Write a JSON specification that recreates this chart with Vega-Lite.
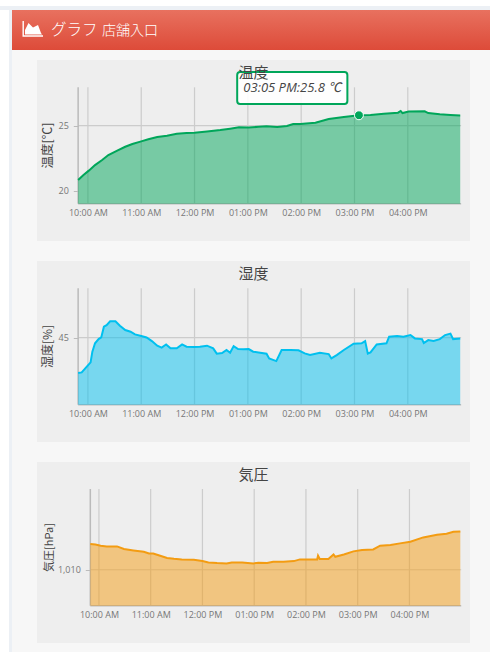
{"$schema":"https://vega.github.io/schema/vega-lite/v6.json","padding":0,"background":"#f7f7f7","bounds":"flush","spacing":0,
"config":{"view":{"stroke":null},"font":"Open Sans"},
"datasets":{
"empty":[],
"hdrIconArea":[{"px":25,"py":34.5},{"px":25,"py":30},{"px":28.5,"py":23},{"px":33,"py":27.5},{"px":38,"py":25},{"px":41,"py":33},{"px":42,"py":34.5}],
"hdrIconLine":[{"i":1,"px":23.2,"py":21},{"i":2,"px":23.2,"py":36},{"i":3,"px":43,"py":36}],
"hdrBig":[{"px":51,"py":30,"label":"グラフ"}],
"hdrSmall":[{"px":102,"py":31,"label":"店舗入口"}],
"temp":[
{"time":"2024-01-01T09:49:00Z","value":20.82},{"time":"2024-01-01T09:55:00Z","value":21.21},{"time":"2024-01-01T10:01:00Z","value":21.54},{"time":"2024-01-01T10:08:00Z","value":21.97},{"time":"2024-01-01T10:16:00Z","value":22.36},{"time":"2024-01-01T10:23:00Z","value":22.74},{"time":"2024-01-01T10:33:00Z","value":23.08},{"time":"2024-01-01T10:42:00Z","value":23.38},{"time":"2024-01-01T10:50:00Z","value":23.59},{"time":"2024-01-01T11:00:00Z","value":23.79},{"time":"2024-01-01T11:08:00Z","value":23.95},{"time":"2024-01-01T11:18:00Z","value":24.13},{"time":"2024-01-01T11:29:00Z","value":24.23},{"time":"2024-01-01T11:40:00Z","value":24.38},{"time":"2024-01-01T11:51:00Z","value":24.44},{"time":"2024-01-01T12:00:00Z","value":24.46},{"time":"2024-01-01T12:14:00Z","value":24.56},{"time":"2024-01-01T12:29:00Z","value":24.67},{"time":"2024-01-01T12:40:00Z","value":24.77},{"time":"2024-01-01T12:50:00Z","value":24.87},{"time":"2024-01-01T13:01:00Z","value":24.85},{"time":"2024-01-01T13:12:00Z","value":24.92},{"time":"2024-01-01T13:21:00Z","value":24.95},{"time":"2024-01-01T13:33:00Z","value":24.9},{"time":"2024-01-01T13:44:00Z","value":24.97},{"time":"2024-01-01T13:51:00Z","value":25.13},{"time":"2024-01-01T13:59:00Z","value":25.13},{"time":"2024-01-01T14:16:00Z","value":25.23},{"time":"2024-01-01T14:31:00Z","value":25.51},{"time":"2024-01-01T14:48:00Z","value":25.67},{"time":"2024-01-01T15:05:00Z","value":25.8},{"time":"2024-01-01T15:18:00Z","value":25.82},{"time":"2024-01-01T15:33:00Z","value":25.92},{"time":"2024-01-01T15:49:00Z","value":26.0},{"time":"2024-01-01T15:52:00Z","value":26.13},{"time":"2024-01-01T15:54:00Z","value":25.97},{"time":"2024-01-01T16:01:00Z","value":26.08},{"time":"2024-01-01T16:19:00Z","value":26.1},{"time":"2024-01-01T16:23:00Z","value":25.97},{"time":"2024-01-01T16:36:00Z","value":25.87},{"time":"2024-01-01T16:48:00Z","value":25.82},{"time":"2024-01-01T16:59:00Z","value":25.79}],
"humid":[
{"time":"2024-01-01T09:49:00Z","value":42.48},{"time":"2024-01-01T09:53:00Z","value":42.52},{"time":"2024-01-01T09:57:00Z","value":42.81},{"time":"2024-01-01T10:01:00Z","value":43.1},{"time":"2024-01-01T10:03:00Z","value":43.24},{"time":"2024-01-01T10:05:00Z","value":44.0},{"time":"2024-01-01T10:08:00Z","value":44.6},{"time":"2024-01-01T10:12:00Z","value":44.9},{"time":"2024-01-01T10:15:00Z","value":45.02},{"time":"2024-01-01T10:18:00Z","value":45.79},{"time":"2024-01-01T10:21:00Z","value":45.9},{"time":"2024-01-01T10:25:00Z","value":46.17},{"time":"2024-01-01T10:31:00Z","value":46.17},{"time":"2024-01-01T10:36:00Z","value":45.86},{"time":"2024-01-01T10:42:00Z","value":45.55},{"time":"2024-01-01T10:48:00Z","value":45.43},{"time":"2024-01-01T10:53:00Z","value":45.24},{"time":"2024-01-01T11:00:00Z","value":45.12},{"time":"2024-01-01T11:06:00Z","value":45.02},{"time":"2024-01-01T11:12:00Z","value":44.76},{"time":"2024-01-01T11:18:00Z","value":44.43},{"time":"2024-01-01T11:23:00Z","value":44.29},{"time":"2024-01-01T11:28:00Z","value":44.52},{"time":"2024-01-01T11:33:00Z","value":44.24},{"time":"2024-01-01T11:40:00Z","value":44.24},{"time":"2024-01-01T11:46:00Z","value":44.52},{"time":"2024-01-01T11:51:00Z","value":44.36},{"time":"2024-01-01T11:59:00Z","value":44.33},{"time":"2024-01-01T12:06:00Z","value":44.36},{"time":"2024-01-01T12:14:00Z","value":44.43},{"time":"2024-01-01T12:21:00Z","value":44.24},{"time":"2024-01-01T12:25:00Z","value":43.86},{"time":"2024-01-01T12:31:00Z","value":43.9},{"time":"2024-01-01T12:36:00Z","value":44.12},{"time":"2024-01-01T12:40:00Z","value":43.93},{"time":"2024-01-01T12:44:00Z","value":44.4},{"time":"2024-01-01T12:49:00Z","value":44.19},{"time":"2024-01-01T12:55:00Z","value":44.17},{"time":"2024-01-01T13:01:00Z","value":44.19},{"time":"2024-01-01T13:06:00Z","value":44.0},{"time":"2024-01-01T13:12:00Z","value":43.95},{"time":"2024-01-01T13:21:00Z","value":43.86},{"time":"2024-01-01T13:24:00Z","value":43.52},{"time":"2024-01-01T13:32:00Z","value":43.33},{"time":"2024-01-01T13:38:00Z","value":44.12},{"time":"2024-01-01T13:48:00Z","value":44.12},{"time":"2024-01-01T13:57:00Z","value":44.1},{"time":"2024-01-01T14:04:00Z","value":43.88},{"time":"2024-01-01T14:10:00Z","value":43.76},{"time":"2024-01-01T14:21:00Z","value":43.93},{"time":"2024-01-01T14:31:00Z","value":43.83},{"time":"2024-01-01T14:34:00Z","value":43.52},{"time":"2024-01-01T14:40:00Z","value":43.76},{"time":"2024-01-01T14:48:00Z","value":44.12},{"time":"2024-01-01T14:59:00Z","value":44.57},{"time":"2024-01-01T15:08:00Z","value":44.6},{"time":"2024-01-01T15:12:00Z","value":44.76},{"time":"2024-01-01T15:15:00Z","value":43.86},{"time":"2024-01-01T15:18:00Z","value":43.95},{"time":"2024-01-01T15:25:00Z","value":44.52},{"time":"2024-01-01T15:36:00Z","value":44.6},{"time":"2024-01-01T15:39:00Z","value":45.07},{"time":"2024-01-01T15:48:00Z","value":45.12},{"time":"2024-01-01T15:55:00Z","value":45.07},{"time":"2024-01-01T16:03:00Z","value":45.19},{"time":"2024-01-01T16:08:00Z","value":44.95},{"time":"2024-01-01T16:16:00Z","value":44.9},{"time":"2024-01-01T16:18:00Z","value":44.62},{"time":"2024-01-01T16:23:00Z","value":44.83},{"time":"2024-01-01T16:29:00Z","value":44.76},{"time":"2024-01-01T16:36:00Z","value":44.9},{"time":"2024-01-01T16:42:00Z","value":45.19},{"time":"2024-01-01T16:48:00Z","value":45.29},{"time":"2024-01-01T16:51:00Z","value":44.9},{"time":"2024-01-01T16:59:00Z","value":44.95}],
"press":[
{"time":"2024-01-01T09:50:00Z","value":1012.85},{"time":"2024-01-01T09:56:00Z","value":1012.81},{"time":"2024-01-01T10:02:00Z","value":1012.67},{"time":"2024-01-01T10:09:00Z","value":1012.59},{"time":"2024-01-01T10:21:00Z","value":1012.59},{"time":"2024-01-01T10:29:00Z","value":1012.3},{"time":"2024-01-01T10:40:00Z","value":1012.15},{"time":"2024-01-01T10:52:00Z","value":1012.0},{"time":"2024-01-01T10:58:00Z","value":1011.81},{"time":"2024-01-01T11:03:00Z","value":1011.81},{"time":"2024-01-01T11:11:00Z","value":1011.56},{"time":"2024-01-01T11:19:00Z","value":1011.3},{"time":"2024-01-01T11:27:00Z","value":1011.22},{"time":"2024-01-01T11:36:00Z","value":1011.15},{"time":"2024-01-01T11:50:00Z","value":1011.11},{"time":"2024-01-01T12:00:00Z","value":1010.96},{"time":"2024-01-01T12:07:00Z","value":1010.81},{"time":"2024-01-01T12:17:00Z","value":1010.74},{"time":"2024-01-01T12:28:00Z","value":1010.7},{"time":"2024-01-01T12:34:00Z","value":1010.81},{"time":"2024-01-01T12:46:00Z","value":1010.81},{"time":"2024-01-01T12:59:00Z","value":1010.7},{"time":"2024-01-01T13:05:00Z","value":1010.78},{"time":"2024-01-01T13:15:00Z","value":1010.74},{"time":"2024-01-01T13:22:00Z","value":1010.89},{"time":"2024-01-01T13:34:00Z","value":1010.89},{"time":"2024-01-01T13:46:00Z","value":1010.96},{"time":"2024-01-01T13:53:00Z","value":1011.15},{"time":"2024-01-01T14:13:00Z","value":1011.15},{"time":"2024-01-01T14:14:00Z","value":1011.56},{"time":"2024-01-01T14:16:00Z","value":1011.19},{"time":"2024-01-01T14:26:00Z","value":1011.19},{"time":"2024-01-01T14:32:00Z","value":1011.7},{"time":"2024-01-01T14:34:00Z","value":1011.44},{"time":"2024-01-01T14:44:00Z","value":1011.7},{"time":"2024-01-01T14:55:00Z","value":1012.04},{"time":"2024-01-01T15:05:00Z","value":1012.19},{"time":"2024-01-01T15:18:00Z","value":1012.26},{"time":"2024-01-01T15:26:00Z","value":1012.67},{"time":"2024-01-01T15:38:00Z","value":1012.74},{"time":"2024-01-01T15:49:00Z","value":1012.93},{"time":"2024-01-01T16:01:00Z","value":1013.11},{"time":"2024-01-01T16:16:00Z","value":1013.59},{"time":"2024-01-01T16:32:00Z","value":1013.89},{"time":"2024-01-01T16:43:00Z","value":1014.0},{"time":"2024-01-01T16:51:00Z","value":1014.22},{"time":"2024-01-01T16:59:00Z","value":1014.26}]
},
"vconcat":[
{"width":490,"height":10,"view":{"stroke":null,"fill":{"gradient":"linear","x1":0,"y1":0,"x2":0,"y2":1,"stops":[{"offset":0,"color":"#ffffff"},{"offset":0.6,"color":"#ffffff"},{"offset":0.6,"color":"#ecf0f5"},{"offset":1,"color":"#ecf0f5"}]}},"data":{"name":"empty"},"mark":"rule","encoding":{}},
{"bounds":"flush","spacing":0,"hconcat":[
{"width":12,"height":642,"view":{"stroke":null,"fill":{"gradient":"linear","x1":0,"y1":0,"x2":1,"y2":0,"stops":[{"offset":0,"color":"#ffffff"},{"offset":0.75,"color":"#ffffff"},{"offset":0.75,"color":"#ecf0f5"},{"offset":1,"color":"#ecf0f5"}]}},"data":{"name":"empty"},"mark":"rule","encoding":{}},
{"bounds":"flush","spacing":10,"vconcat":[
{"width":478,"height":40,"view":{"stroke":null,"fill":{"gradient":"linear","x1":0,"y1":0,"x2":0,"y2":1,"stops":[{"offset":0,"color":"#e8715f"},{"offset":1,"color":"#dd4b39"}]}},
"encoding":{"x":{"field":"px","type":"quantitative","scale":{"domain":[12,490],"nice":false,"zero":false},"axis":null},"y":{"field":"py","type":"quantitative","scale":{"domain":[50,10],"nice":false,"zero":false},"axis":null}},
"layer":[
{"data":{"name":"hdrIconArea"},"mark":{"type":"area","color":"#ffffff","interpolate":"linear"},"encoding":{"y2":{"datum":34.5}}},
{"data":{"name":"hdrIconLine"},"mark":{"type":"line","color":"#ffffff","strokeWidth":1.4},"encoding":{"order":{"field":"i"}}},
{"data":{"name":"hdrBig"},"mark":{"type":"text","align":"left","baseline":"middle","color":"#ffffff","font":"Noto Sans CJK JP","fontSize":15.5,"fontWeight":300},"encoding":{"text":{"field":"label"}}},
{"data":{"name":"hdrSmall"},"mark":{"type":"text","align":"left","baseline":"middle","color":"#ffffff","font":"Noto Sans CJK JP","fontSize":14,"fontWeight":300},"encoding":{"text":{"field":"label"}}}
]},
{"bounds":"flush","spacing":0,"hconcat":[
{"width":25,"height":1,"data":{"name":"empty"},"mark":"rule","encoding":{}},
{"bounds":"flush","spacing":20,"vconcat":[
{"width":433,"height":181,"view":{"stroke":null,"fill":"#eeeeee"},
"title":{"text":"温度","font":"Noto Sans CJK JP","fontSize":15,"fontWeight":"normal","color":"#444444","offset":-21,"anchor":"middle"},
"encoding":{
"x":{"field":"time","type":"temporal","scale":{"type":"utc","domain":["2024-01-01T09:02:42Z","2024-01-01T17:10:00Z"]},"axis":{"title":null,"grid":false,"domain":false,"ticks":false,"format":"%I:%M %p","values":["2024-01-01T10:00:00Z","2024-01-01T11:00:00Z","2024-01-01T12:00:00Z","2024-01-01T13:00:00Z","2024-01-01T14:00:00Z","2024-01-01T15:00:00Z","2024-01-01T16:00:00Z"],"offset":-37.3,"labelPadding":5,"labelFont":"Open Sans","labelFontSize":9,"labelColor":"#777777","labelOverlap":false}},
"y":{"field":"value","type":"quantitative","scale":{"domain":[16.13,30.05],"nice":false,"zero":false},"axis":{"title":"温度[℃]","titleFont":"Noto Sans CJK JP","titleFontSize":12.5,"titleFontWeight":"normal","titleColor":"#444444","titleX":-24,"titleY":85,"grid":false,"domain":false,"offset":-41.3,"values":[20,25],"tickSize":5,"tickColor":"#bbbbbb","labelPadding":5,"labelFont":"Open Sans","labelFontSize":9,"labelColor":"#777777"}}},
"layer":[
{"data":{"values":[{"time":"2024-01-01T10:00:00Z","value":19,"value2":27.95},{"time":"2024-01-01T11:00:00Z","value":19,"value2":27.95},{"time":"2024-01-01T12:00:00Z","value":19,"value2":27.95},{"time":"2024-01-01T13:00:00Z","value":19,"value2":27.95},{"time":"2024-01-01T14:00:00Z","value":19,"value2":27.95},{"time":"2024-01-01T15:00:00Z","value":19,"value2":27.95},{"time":"2024-01-01T16:00:00Z","value":19,"value2":27.95}]},"mark":{"type":"rule","color":"#cccccc","strokeWidth":1.2},"encoding":{"y2":{"field":"value2"}}},
{"data":{"values":[{"time":"2024-01-01T09:49:00Z","value":25,"time2":"2024-01-01T17:00:00Z"}]},"mark":{"type":"rule","color":"#cccccc","strokeWidth":1.2},"encoding":{"x2":{"field":"time2"}}},
{"data":{"values":[{"time":"2024-01-01T09:49:00Z","value":19,"value2":27.95}]},"mark":{"type":"rule","color":"#bbbbbb","strokeWidth":1.5},"encoding":{"y2":{"field":"value2"}}},
{"data":{"values":[{"time":"2024-01-01T09:49:00Z","value":19,"time2":"2024-01-01T17:00:00Z"}]},"mark":{"type":"rule","color":"#bbbbbb","strokeWidth":1.5},"encoding":{"x2":{"field":"time2"}}},
{"data":{"name":"temp"},"mark":{"type":"area","color":"#00a65a","opacity":0.5},"encoding":{"y2":{"datum":19}}},
{"data":{"name":"temp"},"mark":{"type":"line","color":"#00a65a","strokeWidth":2}},
{"data":{"values":[{"time":"2024-01-01T15:05:00Z","value":25.8}]},"mark":{"type":"point","filled":true,"opacity":1,"color":"#00a65a","size":80,"stroke":"#ffffff","strokeWidth":1}},
{"data":{"values":[{"time":"2024-01-01T12:48:00Z","time2":"2024-01-01T14:52:00Z","value":26.67,"value2":29.13}]},"mark":{"type":"rect","fill":"#ffffff","fillOpacity":0.9,"stroke":"#00a65a","strokeWidth":2,"cornerRadius":3},"encoding":{"x2":{"field":"time2"},"y2":{"field":"value2"}}},
{"data":{"values":[{"time":"2024-01-01T13:50:00Z","value":27.9,"label":"03:05 PM:25.8 ℃"}]},"mark":{"type":"text","font":"Open Sans, Noto Sans CJK JP","fontSize":13,"fontStyle":"italic","color":"#444444","align":"center","baseline":"middle"},"encoding":{"text":{"field":"label"}}}
]},
{"width":433,"height":181,"view":{"stroke":null,"fill":"#eeeeee"},
"title":{"text":"湿度","font":"Noto Sans CJK JP","fontSize":15,"fontWeight":"normal","color":"#444444","offset":-21,"anchor":"middle"},
"encoding":{
"x":{"field":"time","type":"temporal","scale":{"type":"utc","domain":["2024-01-01T09:02:42Z","2024-01-01T17:10:00Z"]},"axis":{"title":null,"grid":false,"domain":false,"ticks":false,"format":"%I:%M %p","values":["2024-01-01T10:00:00Z","2024-01-01T11:00:00Z","2024-01-01T12:00:00Z","2024-01-01T13:00:00Z","2024-01-01T14:00:00Z","2024-01-01T15:00:00Z","2024-01-01T16:00:00Z"],"offset":-37.3,"labelPadding":5,"labelFont":"Open Sans","labelFontSize":9,"labelColor":"#777777","labelOverlap":false}},
"y":{"field":"value","type":"quantitative","scale":{"domain":[37.55,50.48],"nice":false,"zero":false},"axis":{"title":"湿度[%]","titleFont":"Noto Sans CJK JP","titleFontSize":12,"titleFontWeight":"normal","titleColor":"#444444","titleX":-24,"titleY":85,"grid":false,"domain":false,"offset":-41.3,"values":[45],"tickSize":5,"tickColor":"#bbbbbb","labelPadding":5,"labelFont":"Open Sans","labelFontSize":9,"labelColor":"#777777"}}},
"layer":[
{"data":{"values":[{"time":"2024-01-01T10:00:00Z","value":40.21,"value2":48.53},{"time":"2024-01-01T11:00:00Z","value":40.21,"value2":48.53},{"time":"2024-01-01T12:00:00Z","value":40.21,"value2":48.53},{"time":"2024-01-01T13:00:00Z","value":40.21,"value2":48.53},{"time":"2024-01-01T14:00:00Z","value":40.21,"value2":48.53},{"time":"2024-01-01T15:00:00Z","value":40.21,"value2":48.53},{"time":"2024-01-01T16:00:00Z","value":40.21,"value2":48.53}]},"mark":{"type":"rule","color":"#cccccc","strokeWidth":1.2},"encoding":{"y2":{"field":"value2"}}},
{"data":{"values":[{"time":"2024-01-01T09:49:00Z","value":45,"time2":"2024-01-01T17:00:00Z"}]},"mark":{"type":"rule","color":"#cccccc","strokeWidth":1.2},"encoding":{"x2":{"field":"time2"}}},
{"data":{"values":[{"time":"2024-01-01T09:49:00Z","value":40.21,"value2":48.53}]},"mark":{"type":"rule","color":"#bbbbbb","strokeWidth":1.5},"encoding":{"y2":{"field":"value2"}}},
{"data":{"values":[{"time":"2024-01-01T09:49:00Z","value":40.21,"time2":"2024-01-01T17:00:00Z"}]},"mark":{"type":"rule","color":"#bbbbbb","strokeWidth":1.5},"encoding":{"x2":{"field":"time2"}}},
{"data":{"name":"humid"},"mark":{"type":"area","color":"#00c0ef","opacity":0.5},"encoding":{"y2":{"datum":40.21}}},
{"data":{"name":"humid"},"mark":{"type":"line","color":"#00c0ef","strokeWidth":2}}
]},
{"width":433,"height":181,"view":{"stroke":null,"fill":"#eeeeee"},
"title":{"text":"気圧","font":"Noto Sans CJK JP","fontSize":15,"fontWeight":"normal","color":"#444444","offset":-21,"anchor":"middle"},
"encoding":{
"x":{"field":"time","type":"temporal","scale":{"type":"utc","domain":["2024-01-01T08:48:12Z","2024-01-01T17:10:12Z"]},"axis":{"title":null,"grid":false,"domain":false,"ticks":false,"format":"%I:%M %p","values":["2024-01-01T10:00:00Z","2024-01-01T11:00:00Z","2024-01-01T12:00:00Z","2024-01-01T13:00:00Z","2024-01-01T14:00:00Z","2024-01-01T15:00:00Z","2024-01-01T16:00:00Z"],"offset":-37.3,"labelPadding":5,"labelFont":"Open Sans","labelFontSize":9,"labelColor":"#777777","labelOverlap":false}},
"y":{"field":"value","type":"quantitative","scale":{"domain":[1001.86,1021.97],"nice":false,"zero":false},"axis":{"title":"気圧[hPa]","titleFont":"Noto Sans CJK JP","titleFontSize":11,"titleFontWeight":"normal","titleColor":"#444444","titleX":-36,"titleY":85,"grid":false,"domain":false,"offset":-53.3,"values":[1010],"format":",d","tickSize":5,"tickColor":"#bbbbbb","labelPadding":5,"labelFont":"Open Sans","labelFontSize":9,"labelColor":"#777777"}}},
"layer":[
{"data":{"values":[{"time":"2024-01-01T10:00:00Z","value":1006,"value2":1018.97},{"time":"2024-01-01T11:00:00Z","value":1006,"value2":1018.97},{"time":"2024-01-01T12:00:00Z","value":1006,"value2":1018.97},{"time":"2024-01-01T13:00:00Z","value":1006,"value2":1018.97},{"time":"2024-01-01T14:00:00Z","value":1006,"value2":1018.97},{"time":"2024-01-01T15:00:00Z","value":1006,"value2":1018.97},{"time":"2024-01-01T16:00:00Z","value":1006,"value2":1018.97}]},"mark":{"type":"rule","color":"#cccccc","strokeWidth":1.2},"encoding":{"y2":{"field":"value2"}}},
{"data":{"values":[{"time":"2024-01-01T09:50:00Z","value":1010,"time2":"2024-01-01T17:00:00Z"}]},"mark":{"type":"rule","color":"#cccccc","strokeWidth":1.2},"encoding":{"x2":{"field":"time2"}}},
{"data":{"values":[{"time":"2024-01-01T09:50:00Z","value":1006,"value2":1018.97}]},"mark":{"type":"rule","color":"#bbbbbb","strokeWidth":1.5},"encoding":{"y2":{"field":"value2"}}},
{"data":{"values":[{"time":"2024-01-01T09:50:00Z","value":1006,"time2":"2024-01-01T17:00:00Z"}]},"mark":{"type":"rule","color":"#bbbbbb","strokeWidth":1.5},"encoding":{"x2":{"field":"time2"}}},
{"data":{"name":"press"},"mark":{"type":"area","color":"#f39c12","opacity":0.5},"encoding":{"y2":{"datum":1006}}},
{"data":{"name":"press"},"mark":{"type":"line","color":"#f39c12","strokeWidth":2}}
]}
]}
]}
]}
]}
]}
